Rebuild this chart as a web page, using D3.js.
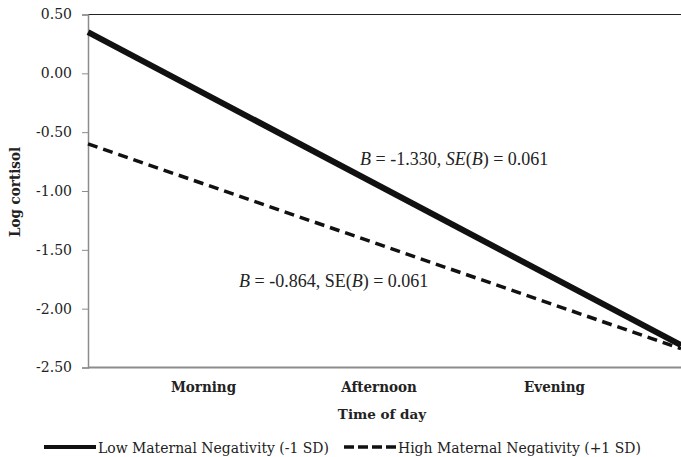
<!DOCTYPE html>
<html>
<head>
<meta charset="utf-8">
<script src="https://cdn.jsdelivr.net/npm/d3@7"></script>
<style>
  body { margin: 0; background: #fff; }
  .tick text { font-family: "DejaVu Serif", serif; }
  .legend text { font-family: "DejaVu Serif", serif; font-stretch: condensed; }
</style>
</head>
<body>
<div id="chart"></div>
<script>
    var svgWidth = 681;
    var svgHeight = 457;

    var margin = { top: 14.5, right: 0, bottom: 89.5, left: 88 };
    var width = svgWidth - margin.left - margin.right;
    var height = svgHeight - margin.top - margin.bottom;

    // data
    var categories = ["Morning", "Afternoon", "Evening"];
    var timePoints = [0, 1];
    var lowNegativity = [0.35, -2.31];
    var highNegativity = [-0.60, -2.34];
    var yTicks = [0.5, 0, -0.5, -1, -1.5, -2, -2.5];
    var seriesNames = ["Low Maternal Negativity (-1 SD)", "High Maternal Negativity (+1 SD)"];

    var svg = d3.select("#chart")
      .append("svg")
      .attr("width", svgWidth)
      .attr("height", svgHeight);

    var chartGroup = svg.append("g")
      .attr("transform", `translate(${margin.left}, ${margin.top})`);

    // scales
    var yScale = d3.scaleLinear().domain([-2.5, 0.5]).range([height, 0]);
    var xLine = d3.scaleLinear().domain([0, 1]).range([0, width]);
    var xCat = d3.scalePoint().domain(categories).range([115, 466]);

    // top border
    chartGroup.append("line")
      .attr("x1", 0).attr("x2", width)
      .attr("y1", 0).attr("y2", 0)
      .attr("stroke", "#222").attr("stroke-width", 1.2);

    // y axis - plain hyphen for negatives, like the original
    var fmt = d3.format(".2f");
    var leftAxis = d3.axisLeft(yScale)
      .tickValues(yTicks)
      .tickFormat(d => fmt(d).replace("\u2212", "-"))
      .tickSize(6)
      .tickPadding(10);

    var yAxis = chartGroup.append("g").call(leftAxis);
    yAxis.select(".domain").attr("stroke", "#8c8c8c").attr("stroke-width", 1.5);
    yAxis.selectAll(".tick line").attr("stroke", "#8c8c8c").attr("stroke-width", 1);
    yAxis.selectAll(".tick text").attr("font-size", "14px").attr("fill", "#222");

    // x axis (categories)
    var bottomAxis = d3.axisBottom(xCat).tickSize(0).tickPadding(14);
    var xAxis = chartGroup.append("g")
      .attr("transform", `translate(0, ${height})`)
      .call(bottomAxis);
    xAxis.select(".domain").remove();
    chartGroup.append("line")
      .attr("x1", 0).attr("x2", width)
      .attr("y1", height).attr("y2", height)
      .attr("stroke", "#8c8c8c").attr("stroke-width", 2);
    xAxis.selectAll(".tick text")
      .attr("font-size", "15px")
      .attr("font-weight", "bold")
      .attr("font-stretch", "condensed")
      .attr("fill", "#222");

    // lines
    var line = d3.line()
      .x((d, i) => xLine(timePoints[i]))
      .y(d => yScale(d));

    chartGroup.append("path")
      .datum(highNegativity)
      .attr("d", line)
      .attr("fill", "none")
      .attr("stroke", "#111")
      .attr("stroke-width", 3.5)
      .attr("stroke-dasharray", "10,6");

    chartGroup.append("path")
      .datum(lowNegativity)
      .attr("d", line)
      .attr("fill", "none")
      .attr("stroke", "#111")
      .attr("stroke-width", 6);

    // annotations
    var note1 = svg.append("text")
      .attr("x", 360).attr("y", 165)
      .attr("font-family", "'Liberation Serif', serif")
      .attr("font-size", "18px")
      .attr("fill", "#222");
    note1.append("tspan").attr("font-style", "italic").text("B");
    note1.append("tspan").text(" = -1.330, ");
    note1.append("tspan").attr("font-style", "italic").text("SE");
    note1.append("tspan").text("(");
    note1.append("tspan").attr("font-style", "italic").text("B");
    note1.append("tspan").text(") = 0.061");

    var note2 = svg.append("text")
      .attr("x", 239).attr("y", 287)
      .attr("font-family", "'Liberation Serif', serif")
      .attr("font-size", "18px")
      .attr("fill", "#222");
    note2.append("tspan").attr("font-style", "italic").text("B");
    note2.append("tspan").text(" = -0.864, SE(");
    note2.append("tspan").attr("font-style", "italic").text("B");
    note2.append("tspan").text(") = 0.061");

    // axis titles
    svg.append("text")
      .attr("x", 382).attr("y", 419)
      .attr("text-anchor", "middle")
      .attr("font-family", "'DejaVu Serif', serif")
      .attr("font-weight", "bold")
      .attr("font-size", "13.5px")
      .attr("fill", "#222")
      .text("Time of day");

    svg.append("text")
      .attr("transform", "translate(20, 192) rotate(-90)")
      .attr("text-anchor", "middle")
      .attr("font-family", "'DejaVu Serif', serif")
      .attr("font-stretch", "condensed")
      .attr("font-weight", "bold")
      .attr("font-size", "15px")
      .attr("fill", "#222")
      .text("Log cortisol");

    // legend
    var legend = svg.append("g").attr("class", "legend");
    var legendX = [44, 344];
    seriesNames.forEach(function(name, i) {
      legend.append("line")
        .attr("x1", legendX[i]).attr("x2", legendX[i] + 52)
        .attr("y1", 447).attr("y2", 447)
        .attr("stroke", "#111")
        .attr("stroke-width", i === 0 ? 4 : 3.5)
        .attr("stroke-dasharray", i === 0 ? null : "10,4");
      legend.append("text")
        .attr("x", legendX[i] + 54).attr("y", 452.5)
        .attr("font-size", "15.5px")
        .attr("fill", "#222")
        .text(name);
    });
</script>
</body>
</html>
